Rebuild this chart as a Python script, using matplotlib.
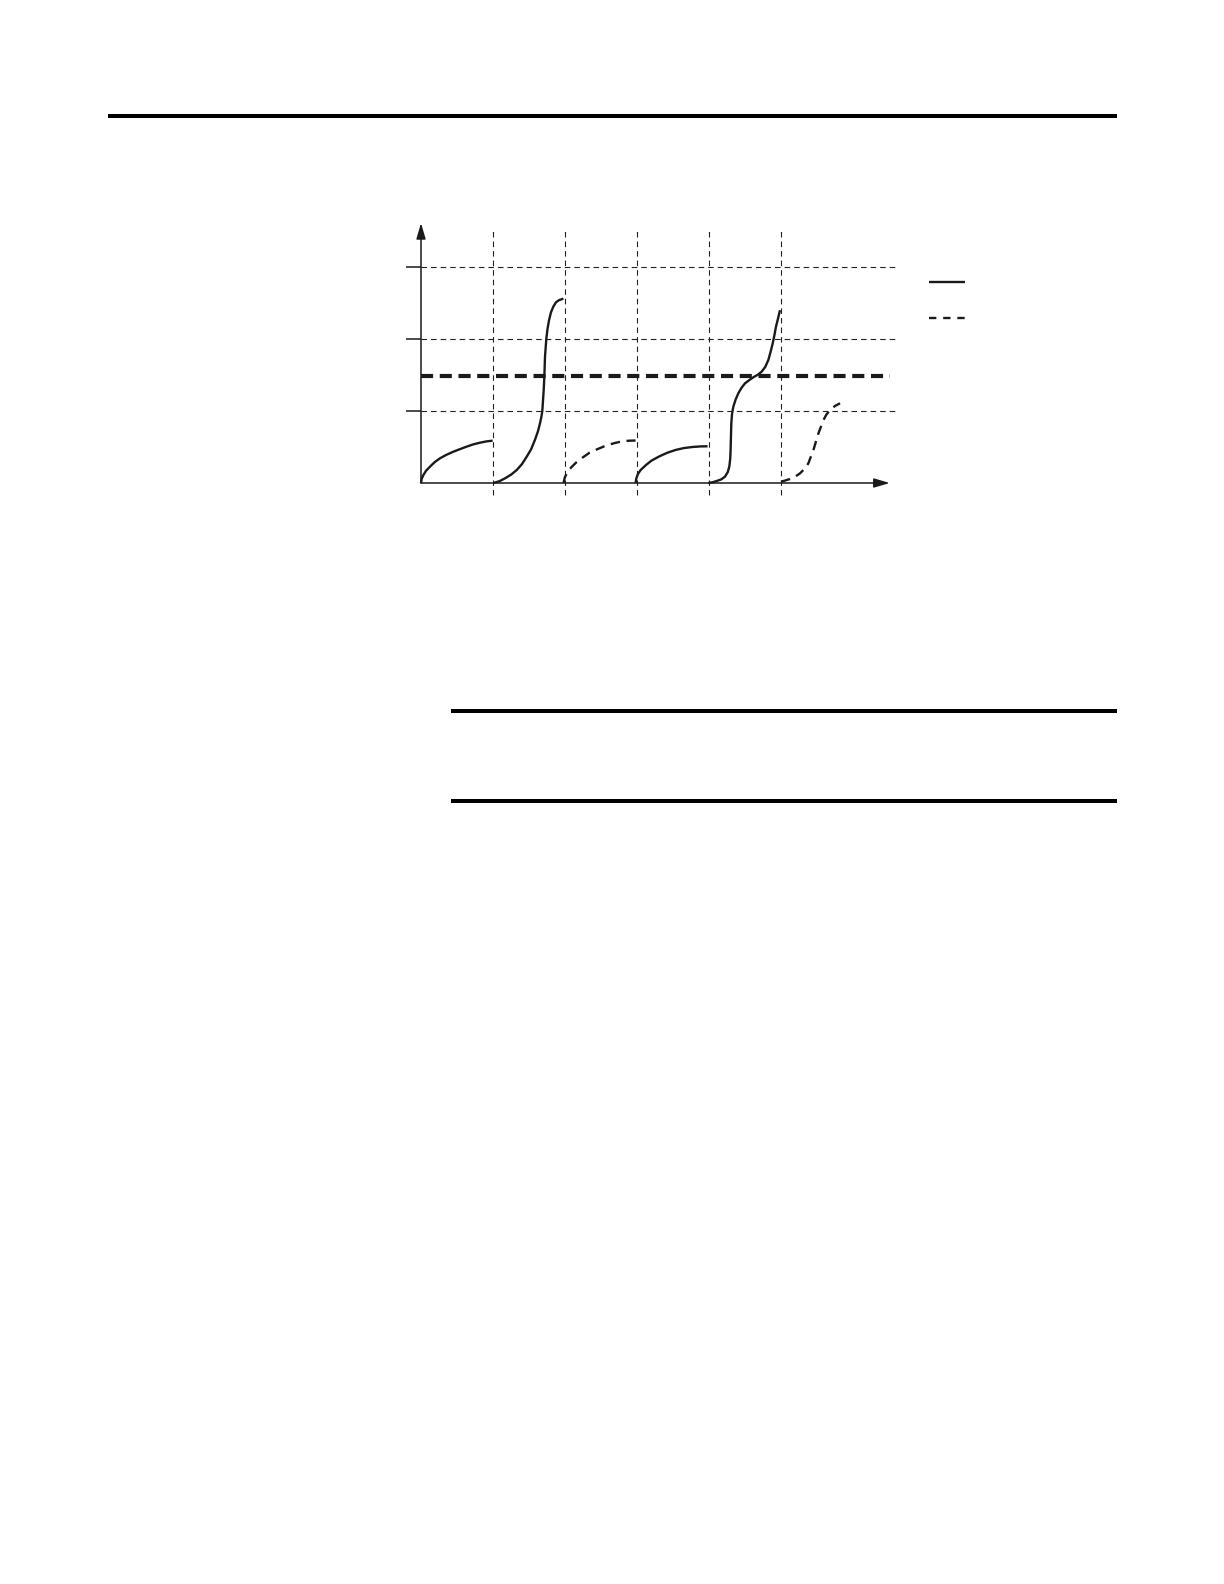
import matplotlib
matplotlib.use("Agg")
import matplotlib.pyplot as plt
from matplotlib.lines import Line2D

# curve segments (x in grid cells, y in grid cells)
seg1_x = [0.0, 0.01, 0.033, 0.07, 0.125, 0.19, 0.264, 0.35, 0.45, 0.54, 0.634, 0.72, 0.82, 0.91, 0.995]
seg1_y = [0.0, 0.06, 0.11, 0.17, 0.227, 0.29, 0.343, 0.39, 0.435, 0.47, 0.505, 0.535, 0.56, 0.578, 0.588]

seg2_x = [1.005, 1.09, 1.167, 1.25, 1.329, 1.40, 1.468, 1.53, 1.583, 1.625, 1.653, 1.672, 1.685,
          1.704, 1.713, 1.722, 1.741, 1.757, 1.778, 1.805, 1.838, 1.875, 1.917, 1.977]
seg2_y = [0.0, 0.025, 0.065, 0.115, 0.18, 0.26, 0.365, 0.47, 0.60, 0.72, 0.83, 0.92, 1.0,
          1.29, 1.47, 1.75, 2.01, 2.14, 2.26, 2.37, 2.45, 2.51, 2.54, 2.56]

seg3_x = [1.98, 1.995, 2.03, 2.09, 2.15, 2.24, 2.34, 2.45, 2.57, 2.69, 2.80, 2.90, 2.98]
seg3_y = [0.0, 0.07, 0.15, 0.22, 0.28, 0.35, 0.42, 0.47, 0.52, 0.555, 0.58, 0.588, 0.59]

seg4_x = [2.98, 2.99, 3.01, 3.05, 3.125, 3.2, 3.31, 3.42, 3.54, 3.65, 3.77, 3.88, 3.98]
seg4_y = [0.0, 0.06, 0.12, 0.18, 0.25, 0.31, 0.37, 0.42, 0.46, 0.485, 0.50, 0.508, 0.51]

seg5_x = [3.99, 4.05, 4.107, 4.17, 4.222, 4.26, 4.282, 4.295, 4.30, 4.305, 4.31, 4.32, 4.338, 4.37,
          4.407, 4.45, 4.5, 4.56, 4.615, 4.68, 4.731, 4.78, 4.824, 4.855, 4.885, 4.91, 4.93, 4.96, 4.986]
seg5_y = [0.0, 0.01, 0.028, 0.05, 0.088, 0.15, 0.227, 0.34, 0.458, 0.65, 0.83, 0.96, 1.06, 1.16,
          1.245, 1.32, 1.384, 1.43, 1.468, 1.505, 1.546, 1.61, 1.708, 1.82, 1.94, 2.06, 2.17, 2.29, 2.40]

seg6_x = [5.0, 5.06, 5.125, 5.2, 5.264, 5.33, 5.38, 5.45, 5.52, 5.59, 5.63, 5.68, 5.75, 5.82]
seg6_y = [0.018, 0.035, 0.056, 0.09, 0.134, 0.2, 0.273, 0.458, 0.69, 0.875, 0.95, 1.01, 1.07, 1.107]

grid_x = [1, 2, 3, 4, 5]
grid_y = [1, 2, 3]
limit_y = 1.48

W, H = 1224, 1584
fig = plt.figure(figsize=(W / 100, H / 100), dpi=100)

# page rules (pixel layout of the page)
rules = [(108, 1117, 116), (451, 1117, 711), (451, 1117, 801)]
for x0, x1, y in rules:
    fig.add_artist(Line2D([x0 / W, x1 / W], [1 - y / H, 1 - y / H],
                          transform=fig.transFigure, color="black", lw=2.9,
                          solid_capstyle="butt"))

# axes: 1 grid cell = 72 px, origin at pixel (421, 483)
unit = 72
xmin, xmax, ymin, ymax = -0.3, 7.8, -0.3, 3.7
left = 421 + xmin * unit
top = 483 - ymax * unit
ax = fig.add_axes([left / W, 1 - (top + (ymax - ymin) * unit) / H,
                   (xmax - xmin) * unit / W, (ymax - ymin) * unit / H])
ax.set_xlim(xmin, xmax)
ax.set_ylim(ymin, ymax)
ax.axis("off")

grid_style = dict(color="#222222", lw=0.8, linestyles=(0, (5, 3.6)))
ax.vlines(grid_x, -0.17, 3.54, **grid_style)
ax.hlines(grid_y, 0, 6.61, **grid_style)

# tick marks on y axis
ax.hlines(grid_y, -0.21, 0, color="#1a1a1a", lw=1.1)

# axes with arrows
arrow = dict(arrowstyle="-|>,head_length=0.95,head_width=0.28", color="#1a1a1a",
             lw=1.1, shrinkA=0, shrinkB=0)
ax.annotate("", xy=(6.51, 0), xytext=(0, 0), arrowprops=arrow)
ax.annotate("", xy=(0, 3.61), xytext=(0, 0), arrowprops=arrow)

# threshold line
ax.hlines(limit_y, 0, 6.52, color="#1a1a1a", lw=3.0, linestyles=(0, (2.9, 1.6)))

solid = dict(color="#1a1a1a", lw=1.7, solid_capstyle="butt", solid_joinstyle="round")
dashed = dict(color="#1a1a1a", lw=1.7, linestyle=(0, (4.0, 2.8)), dash_joinstyle="round")
ax.plot(seg1_x, seg1_y, **solid)
ax.plot(seg2_x, seg2_y, **solid)
ax.plot(seg3_x, seg3_y, **dashed)
ax.plot(seg4_x, seg4_y, **solid)
ax.plot(seg5_x, seg5_y, **solid)
ax.plot(seg6_x, seg6_y, **dashed)

# legend samples (no text in the original)
ax.plot([7.06, 7.56], [2.79, 2.79], color="#1a1a1a", lw=1.7, solid_capstyle="butt")
ax.plot([7.06, 7.56], [2.29, 2.29], color="#1a1a1a", lw=1.7, linestyle=(0, (3.1, 2.9)))

fig.savefig("out.png", dpi=100)
